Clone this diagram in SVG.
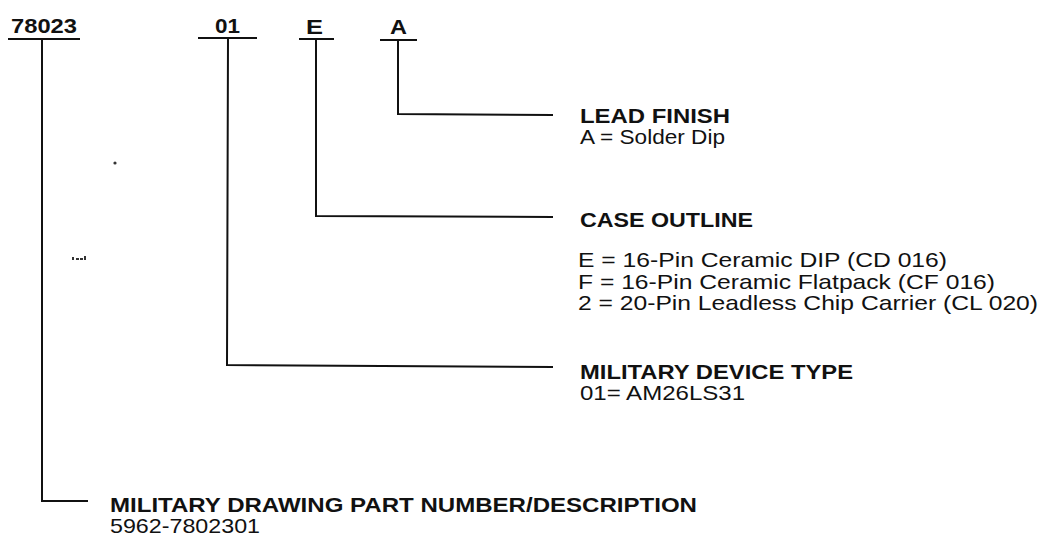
<svg xmlns="http://www.w3.org/2000/svg" width="1042" height="539" viewBox="0 0 1042 539">
<style>
  .t { font-family: "Liberation Sans", Arial, sans-serif; font-size: 21px; fill: #111; }
  .b { font-weight: bold; }
  .ln { stroke: #111; stroke-width: 2; fill: none; }
  .spk { fill: #333; }
</style>
<rect width="1042" height="539" fill="#fff"/>
<g id="fields">
  <g id="f-78023">
    <text class="t b" x="11" y="33" textLength="66" lengthAdjust="spacingAndGlyphs">78023</text>
    <line class="ln" x1="8" y1="39" x2="80" y2="39"/>
  </g>
  <g id="f-01">
    <text class="t b" x="215" y="33" textLength="25" lengthAdjust="spacingAndGlyphs">01</text>
    <line class="ln" x1="198" y1="38" x2="257" y2="38"/>
  </g>
  <g id="f-E">
    <text class="t b" x="306" y="34" textLength="17" lengthAdjust="spacingAndGlyphs">E</text>
    <line class="ln" x1="299" y1="39" x2="334" y2="39"/>
  </g>
  <g id="f-A">
    <text class="t b" x="390" y="34" textLength="17" lengthAdjust="spacingAndGlyphs">A</text>
    <line class="ln" x1="380" y1="40" x2="417" y2="40"/>
  </g>
</g>
<g id="connectors">
  <polyline class="ln" points="398,40 398,114 553,115"/>
  <polyline class="ln" points="316,39 316,216 553,217"/>
  <polyline class="ln" points="228,38 227,365 553,367"/>
  <polyline class="ln" points="42,39 42,501 88,501"/>
</g>
<g id="lead-finish">
  <text class="t b" x="580" y="123" textLength="150" lengthAdjust="spacingAndGlyphs">LEAD FINISH</text>
  <text class="t" x="580" y="144" textLength="145" lengthAdjust="spacingAndGlyphs">A = Solder Dip</text>
</g>
<g id="case-outline">
  <text class="t b" x="580" y="227" textLength="173" lengthAdjust="spacingAndGlyphs">CASE OUTLINE</text>
  <text class="t" x="578" y="267" textLength="369" lengthAdjust="spacingAndGlyphs">E = 16-Pin Ceramic DIP (CD 016)</text>
  <text class="t" x="578" y="289" textLength="417" lengthAdjust="spacingAndGlyphs">F = 16-Pin Ceramic Flatpack (CF 016)</text>
  <text class="t" x="578" y="310" textLength="460" lengthAdjust="spacingAndGlyphs">2 = 20-Pin Leadless Chip Carrier (CL 020)</text>
</g>
<g id="device-type">
  <text class="t b" x="580" y="379" textLength="273" lengthAdjust="spacingAndGlyphs">MILITARY DEVICE TYPE</text>
  <text class="t" x="580" y="400" textLength="165" lengthAdjust="spacingAndGlyphs">01= AM26LS31</text>
</g>
<g id="drawing-number">
  <text class="t b" x="110" y="512" textLength="587" lengthAdjust="spacingAndGlyphs">MILITARY DRAWING PART NUMBER/DESCRIPTION</text>
  <text class="t" x="110" y="533" textLength="150" lengthAdjust="spacingAndGlyphs">5962-7802301</text>
</g>
<g id="specks">
  <circle class="spk" cx="115" cy="163" r="1.6"/>
  <rect class="spk" x="72" y="257" width="2" height="3"/>
  <rect class="spk" x="76" y="258" width="3" height="2"/>
  <rect class="spk" x="80" y="258" width="3" height="2"/>
  <rect class="spk" x="84" y="256" width="2" height="4"/>
</g>
</svg>
